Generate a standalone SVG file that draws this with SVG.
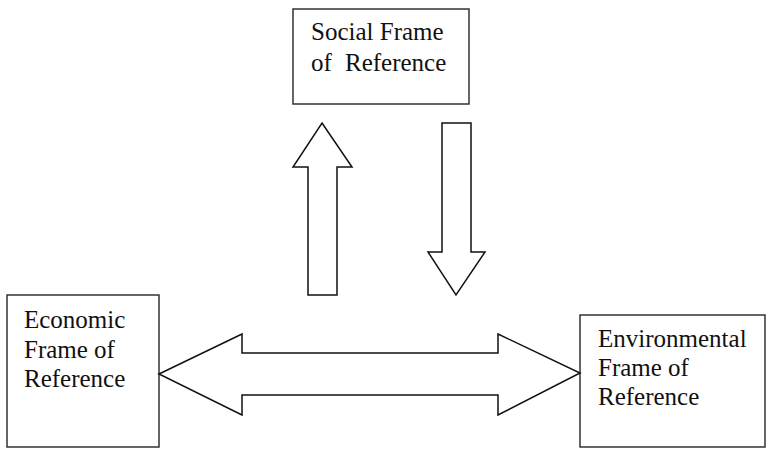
<svg xmlns="http://www.w3.org/2000/svg" width="766" height="449" viewBox="0 0 766 449">
<style>
.box{fill:#fff;stroke:#333;stroke-width:1.5}
.arr{fill:#fff;stroke:#111;stroke-width:1.5;stroke-linejoin:miter}
text{font-family:"Liberation Serif","Times New Roman",serif;font-size:25px;fill:#111}
</style>
<rect width="766" height="449" fill="#fff"/>
<g id="social">
<rect class="box" x="293" y="9" width="176" height="95"/>
<text x="311" y="40">Social Frame</text>
<text x="311" y="71">of<tspan x="345">Reference</tspan></text>
</g>
<g id="economic">
<rect class="box" x="7" y="295" width="152" height="152"/>
<text x="24" y="328">Economic</text>
<text x="24" y="358">Frame of</text>
<text x="24" y="387">Reference</text>
</g>
<g id="environmental">
<rect class="box" x="580" y="315" width="185" height="132"/>
<text x="598" y="347">Environmental</text>
<text x="598" y="376">Frame of</text>
<text x="598" y="405">Reference</text>
</g>
<g id="connectors">
<polygon class="arr" points="322,123 352,167 337,167 337,295 308,295 308,167 293,167"/>
<polygon class="arr" points="442,123 471,123 471,252 485,252 456,295 428,252 442,252"/>
<polygon class="arr" points="159,374 242,334 242,353 498,353 498,334 580,373 498,415 498,395 242,395 242,415"/>
</g>
</svg>
